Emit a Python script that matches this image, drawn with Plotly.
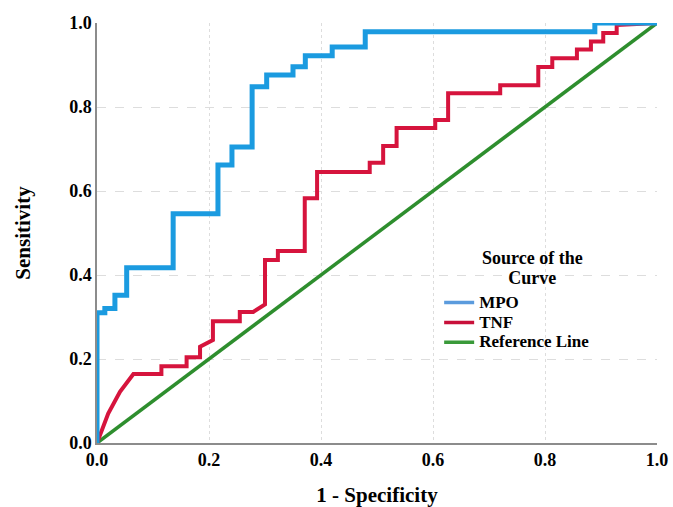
import plotly.graph_objects as go

# MPO ROC curve (1 - specificity, sensitivity)
mpo_fpr = [0.0, 0.0, 0.014, 0.014, 0.032, 0.032, 0.053, 0.053, 0.136, 0.136, 0.216, 0.216,
           0.241, 0.241, 0.277, 0.277, 0.303, 0.303, 0.350, 0.350, 0.372, 0.372, 0.420, 0.420,
           0.479, 0.479, 0.889, 0.889, 1.0]
mpo_tpr = [0.0, 0.310, 0.310, 0.320, 0.320, 0.352, 0.352, 0.417, 0.417, 0.546, 0.546, 0.662,
           0.662, 0.705, 0.705, 0.848, 0.848, 0.876, 0.876, 0.896, 0.896, 0.922, 0.922, 0.943,
           0.943, 0.979, 0.979, 1.0, 1.0]

# TNF ROC curve
tnf_fpr = [0.0, 0.020, 0.041, 0.065, 0.115, 0.115, 0.160, 0.160, 0.184, 0.184, 0.207, 0.207,
           0.255, 0.255, 0.279, 0.300, 0.300, 0.323, 0.323, 0.371, 0.371, 0.393, 0.393, 0.487,
           0.487, 0.511, 0.511, 0.535, 0.535, 0.604, 0.604, 0.627, 0.627, 0.720, 0.720, 0.788,
           0.788, 0.813, 0.813, 0.857, 0.857, 0.882, 0.882, 0.904, 0.904, 0.928, 0.928, 1.0]
tnf_tpr = [0.0, 0.070, 0.122, 0.164, 0.164, 0.183, 0.183, 0.204, 0.204, 0.229, 0.245, 0.290,
           0.290, 0.312, 0.312, 0.330, 0.436, 0.436, 0.457, 0.457, 0.583, 0.583, 0.645, 0.645,
           0.667, 0.667, 0.707, 0.707, 0.750, 0.750, 0.769, 0.769, 0.833, 0.833, 0.852, 0.852,
           0.895, 0.895, 0.916, 0.916, 0.937, 0.937, 0.956, 0.956, 0.976, 0.976, 0.995, 1.0]

# Reference line
ref_x = [0.0, 1.0]
ref_y = [0.0, 1.0]

series_names = ["MPO", "TNF", "Reference Line"]
line_colors = ["#1B9BE0", "#D6143D", "#2E8E2E"]
legend_colors = ["#5B9BDD", "#C8103A", "#3A9A3A"]
legend_title_lines = ["Source of the", "Curve"]
tick_vals = [0.0, 0.2, 0.4, 0.6, 0.8, 1.0]
tick_text = ["0.0", "0.2", "0.4", "0.6", "0.8", "1.0"]

serif = "Liberation Serif"

fig = go.Figure()
fig.add_trace(go.Scatter(x=ref_x, y=ref_y, mode="lines", showlegend=False,
                         line=dict(color=line_colors[2], width=3.5), cliponaxis=False))
fig.add_trace(go.Scatter(x=tnf_fpr, y=tnf_tpr, mode="lines", showlegend=False,
                         line=dict(color=line_colors[1], width=4), cliponaxis=False))
fig.add_trace(go.Scatter(x=mpo_fpr, y=mpo_tpr, mode="lines", showlegend=False,
                         line=dict(color=line_colors[0], width=5), cliponaxis=False))

for name, col in zip(series_names, legend_colors):
    fig.add_trace(go.Scatter(x=[None], y=[None], mode="lines",
                             name='<span style="font-size:17px">' + name + "</span>",
                             line=dict(color=col, width=3.5)))

axis_common = dict(
    range=[0, 1],
    tickvals=tick_vals,
    ticktext=tick_text,
    showline=True,
    linecolor="#8C8C8C",
    linewidth=1.5,
    ticks="",
    zeroline=False,
    showgrid=True,
    gridcolor="#DDDDDD",
    gridwidth=1,
    automargin=False,
    tickfont=dict(family=serif, size=18, color="black", weight="bold"),
)

fig.update_xaxes(**axis_common, griddash="dot",
                 title=dict(text="1 - Specificity", standoff=19,
                            font=dict(family=serif, size=21, color="black", weight="bold")))
fig.update_yaxes(**axis_common, griddash="dash",
                 title=dict(text="Sensitivity", standoff=33,
                            font=dict(family=serif, size=21, color="black", weight="bold")))

title_text = "<br>".join('<span style="font-size:18px">' + t + "</span>" for t in legend_title_lines)
fig.add_annotation(x=0.777, y=0.417, xref="paper", yref="paper",
                   text=title_text, showarrow=False, xanchor="center", yanchor="middle",
                   align="center",
                   font=dict(family=serif, size=15.5, color="black", weight="bold"))

fig.update_layout(
    width=673, height=507,
    margin=dict(l=97, r=16, t=23, b=64),
    paper_bgcolor="white",
    plot_bgcolor="white",
    legend=dict(
        x=0.611, y=0.37, xanchor="left", yanchor="top",
        bgcolor="rgba(255,255,255,0)",
        font=dict(family=serif, size=13, color="black", weight="bold"),
        tracegroupgap=0,
        itemwidth=30,
    ),
)

fig.write_html("out.html", config={"displayModeBar": False},
               post_script="document.body.style.margin='0px';")
